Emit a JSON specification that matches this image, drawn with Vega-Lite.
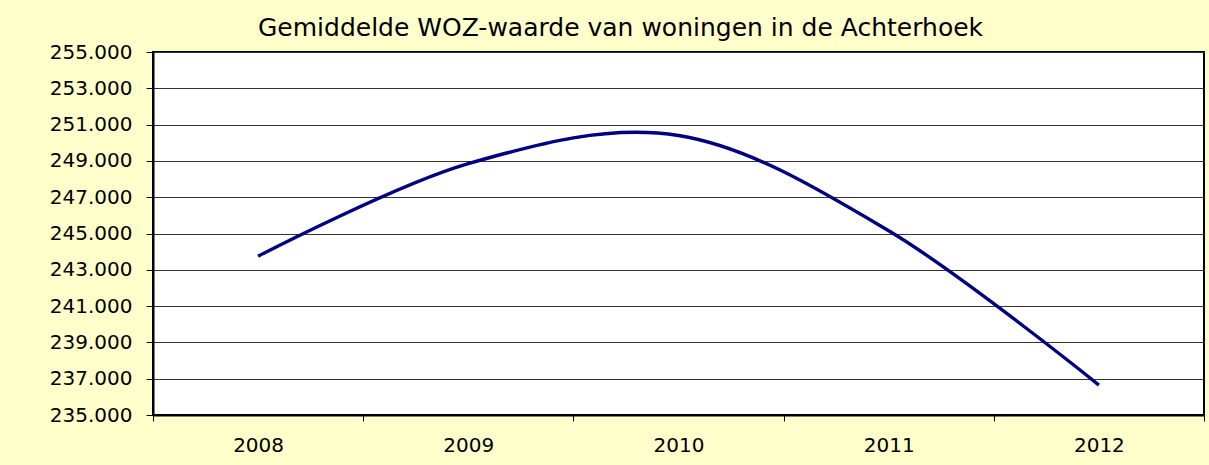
{
  "$schema": "https://vega.github.io/schema/vega-lite/v6.json",
  "width": 1051,
  "height": 363,
  "autosize": {"type": "none"},
  "padding": {"left": 153, "top": 52, "right": 5, "bottom": 50},
  "background": "#FFFFCC",
  "title": {
    "text": "Gemiddelde WOZ-waarde van woningen in de Achterhoek",
    "anchor": "middle",
    "dx": -58,
    "dy": 33,
    "offset": 14,
    "baseline": "alphabetic",
    "font": "DejaVu Sans",
    "fontSize": 25,
    "fontWeight": "normal",
    "color": "#000000"
  },
  "data": {
    "values": [
      {"jaar": "2008", "woz": 243750},
      {"jaar": "2009", "woz": 248850},
      {"jaar": "2010", "woz": 250400},
      {"jaar": "2011", "woz": 245150},
      {"jaar": "2012", "woz": 236650}
    ]
  },
  "mark": {"type": "line", "interpolate": "cardinal", "color": "#000080", "strokeWidth": 3.4},
  "encoding": {
    "x": {
      "field": "jaar",
      "type": "ordinal",
      "bandPosition": 0.5,
      "scale": {"type": "band", "paddingInner": 0, "paddingOuter": 0},
      "axis": {
        "title": null,
        "labelAngle": 0,
        "tickBand": "extent",
        "grid": false,
        "labelFont": "DejaVu Sans",
        "labelFontSize": 20,
        "labelColor": "#000000",
        "labelPadding": 14,
        "tickSize": 6,
        "tickColor": "#000000",
        "domainColor": "#000000",
        "domainWidth": 2
      }
    },
    "y": {
      "field": "woz",
      "type": "quantitative",
      "scale": {"domain": [235000, 255000], "nice": false, "zero": false},
      "axis": {
        "title": null,
        "values": [235000, 237000, 239000, 241000, 243000, 245000, 247000, 249000, 251000, 253000, 255000],
        "labelExpr": "replace(format(datum.value, ','), ',', '.')",
        "labelFlush": false,
        "labelOverlap": false,
        "grid": true,
        "gridColor": "#333333",
        "gridWidth": 1,
        "tickSize": 7,
        "tickColor": "#000000",
        "labelPadding": 14,
        "domainColor": "#000000",
        "domainWidth": 2,
        "labelFont": "DejaVu Sans",
        "labelFontSize": 20,
        "labelColor": "#000000"
      }
    }
  },
  "config": {"view": {"fill": "#FFFFFF", "stroke": "#000000", "strokeWidth": 2}}
}
